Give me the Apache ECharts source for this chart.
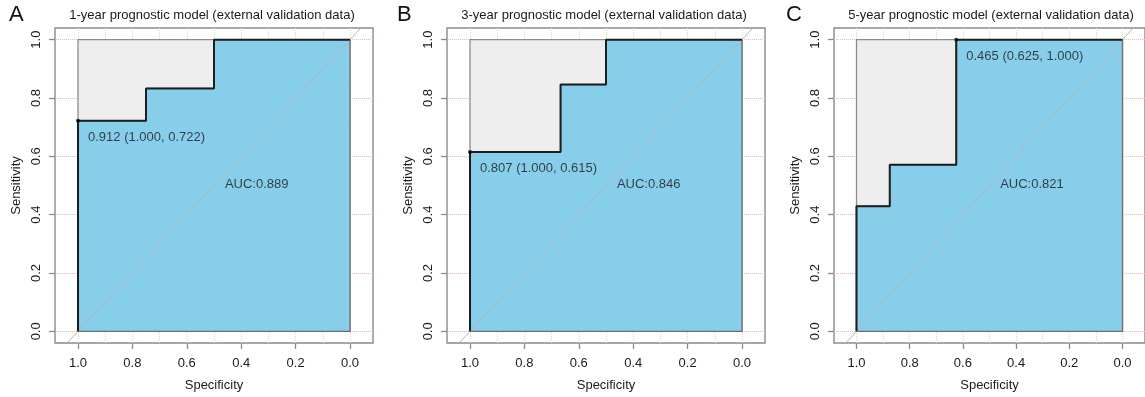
<!DOCTYPE html>
<html>
<head>
<meta charset="utf-8">
<script src="https://cdn.jsdelivr.net/npm/echarts@6/dist/echarts.min.js"></script>
<style>html,body{margin:0;padding:0;background:#fff}#c{width:1145px;height:397px}</style>
</head>
<body>
<div id="c"></div>
<script>
// ---- data ----
const panelLetters = ['A', 'B', 'C'];
const panelTitles = [
  '1-year prognostic model (external validation data)',
  '3-year prognostic model (external validation data)',
  '5-year prognostic model (external validation data)'
];
const specA = [1.0, 1.0, 0.75, 0.75, 0.5, 0.5, 0.0];
const sensA = [0.0, 0.722, 0.722, 0.833, 0.833, 1.0, 1.0];
const specB = [1.0, 1.0, 0.667, 0.667, 0.5, 0.5, 0.0];
const sensB = [0.0, 0.615, 0.615, 0.846, 0.846, 1.0, 1.0];
const specC = [1.0, 1.0, 0.875, 0.875, 0.625, 0.625, 0.0];
const sensC = [0.0, 0.429, 0.429, 0.571, 0.571, 1.0, 1.0];
const thresholdSpec = [1.0, 1.0, 0.625];
const thresholdSens = [0.722, 0.615, 1.0];
const thresholdLabels = ['0.912 (1.000, 0.722)', '0.807 (1.000, 0.615)', '0.465 (0.625, 1.000)'];
const aucLabels = ['AUC:0.889', 'AUC:0.846', 'AUC:0.821'];
const xTicks = [1.0, 0.8, 0.6, 0.4, 0.2, 0.0];
const yTicks = [0.0, 0.2, 0.4, 0.6, 0.8, 1.0];
const xGridValues = [0.0, 0.1, 0.2, 0.3, 0.4, 0.5, 0.6, 0.7, 0.8, 0.9, 1.0];
const yGridValues = [0.0, 0.2, 0.4, 0.6, 0.8, 1.0];
const diagSpec = [1.3, -0.3];

// ---- layout / style ----
const FONT = 'Liberation Sans, Arial, Helvetica, sans-serif';
const TXT = '#1a1a1a';
const BOX = '#8a8a8a';
const gridLefts = [55, 447, 834];
const GRID_TOP = 28, GRID_W = 318, GRID_H = 316;
const AUC_POS = [0.46, 0.505];

const curves = [[specA, sensA], [specB, sensB], [specC, sensC]];

const chart = echarts.init(document.getElementById('c'), null, {renderer: 'canvas'});

const grids = [], xAxes = [], yAxes = [], series = [], graphics = [];

function polygon(gi, pts, fill, stroke, z) {
  return {
    type: 'custom', xAxisIndex: gi, yAxisIndex: gi, z: z, silent: true, clip: true,
    data: [pts[0]],
    renderItem: function (params, api) {
      return {
        type: 'polygon',
        shape: {points: pts.map(p => api.coord(p))},
        style: {fill: fill, stroke: stroke, lineWidth: 1.3}
      };
    }
  };
}

curves.forEach(function (c, i) {
  const specs = c[0], sens = c[1];
  const L = gridLefts[i];
  grids.push({left: L, top: GRID_TOP, width: GRID_W, height: GRID_H, show: true,
    borderColor: BOX, borderWidth: 1.4, backgroundColor: 'transparent', containLabel: false});
  xAxes.push({
    gridIndex: i, type: 'value', inverse: true, min: -0.0846, max: 1.0846,
    axisLine: {show: false, onZero: false},
    splitLine: {show: false},
    axisTick: {show: true, customValues: xTicks, length: 6, lineStyle: {color: BOX, width: 1.3}},
    axisLabel: {customValues: xTicks, formatter: v => v.toFixed(1), margin: 14, fontSize: 13, color: TXT, fontFamily: FONT},
    name: 'Specificity', nameLocation: 'middle', nameGap: 36,
    nameTextStyle: {fontSize: 13, color: TXT, fontFamily: FONT}
  });
  yAxes.push({
    gridIndex: i, type: 'value', min: -0.04, max: 1.04,
    axisLine: {show: false, onZero: false},
    splitLine: {show: false},
    axisTick: {show: true, customValues: yTicks, length: 6, lineStyle: {color: BOX, width: 1.3}},
    axisLabel: {customValues: yTicks, formatter: v => v.toFixed(1), margin: 12, rotate: 90, fontSize: 13, color: TXT, fontFamily: FONT},
    name: 'Sensitivity', nameLocation: 'middle', nameGap: 32, nameRotate: 90,
    nameTextStyle: {fontSize: 13, color: TXT, fontFamily: FONT}
  });

  // grid lines (dotted), drawn beneath polygons
  series.push({
    type: 'line', xAxisIndex: i, yAxisIndex: i, data: [], z: 1, silent: true,
    markLine: {
      z: 1, silent: true, symbol: 'none', label: {show: false}, animation: false,
      data: yGridValues.map(v => ({yAxis: v, lineStyle: {color: '#ffb3b3', type: 'dotted', width: 1}}))
        .concat(xGridValues.map(v => ({xAxis: v, lineStyle: {color: '#b6f0b6', type: 'dotted', width: 1}})))
    }
  });

  // max AUC polygon (gray)
  const sMax = Math.max(...specs), sMin = Math.min(...specs);
  const eMax = Math.max(...sens), eMin = Math.min(...sens);
  series.push(polygon(i, [[sMax, eMin], [sMax, eMax], [sMin, eMax], [sMin, eMin]], '#eeeeee', '#8c8c8c', 2));
  // AUC polygon (blue)
  const pts = specs.map((s, k) => [s, sens[k]]);
  series.push(polygon(i, pts.concat([[sMin, eMin]]), '#87ceeb', '#6f6f6f', 3));

  // diagonal reference line
  series.push({
    type: 'line', xAxisIndex: i, yAxisIndex: i, z: 4, silent: true, clip: true,
    symbol: 'none', lineStyle: {color: '#b5b5b5', width: 1},
    data: diagSpec.map(s => [s, 1 - s])
  });
  // ROC curve
  series.push({
    type: 'line', xAxisIndex: i, yAxisIndex: i, z: 5, silent: true,
    symbol: 'none', lineStyle: {color: '#1e1e1e', width: 2},
    data: pts
  });
  // threshold point
  series.push({
    type: 'scatter', xAxisIndex: i, yAxisIndex: i, z: 6, silent: true,
    symbolSize: 4, itemStyle: {color: '#000'},
    data: [[thresholdSpec[i], thresholdSens[i]]],
    label: {show: true, formatter: thresholdLabels[i], position: [12, 18.5], align: 'left', verticalAlign: 'middle',
      fontSize: 13, color: TXT, fontFamily: FONT}
  });
  // AUC text
  series.push({
    type: 'scatter', xAxisIndex: i, yAxisIndex: i, z: 6, silent: true,
    symbolSize: 0, data: [AUC_POS],
    label: {show: true, formatter: aucLabels[i], position: [0, 0], align: 'left', verticalAlign: 'middle',
      fontSize: 13, color: TXT, fontFamily: FONT}
  });

  graphics.push({type: 'text', x: L + GRID_W / 2 - 2, y: 15,
    style: {text: panelTitles[i], font: '13px ' + FONT, fill: TXT, textAlign: 'center', textVerticalAlign: 'middle'}});
  graphics.push({type: 'text', x: [9, 397, 786][i], y: 4,
    style: {text: panelLetters[i], font: '22px ' + FONT, fill: '#111', textAlign: 'left', textVerticalAlign: 'top'}});
});

chart.setOption({
  animation: false,
  grid: grids, xAxis: xAxes, yAxis: yAxes, series: series, graphic: graphics
});
</script>
</body>
</html>
